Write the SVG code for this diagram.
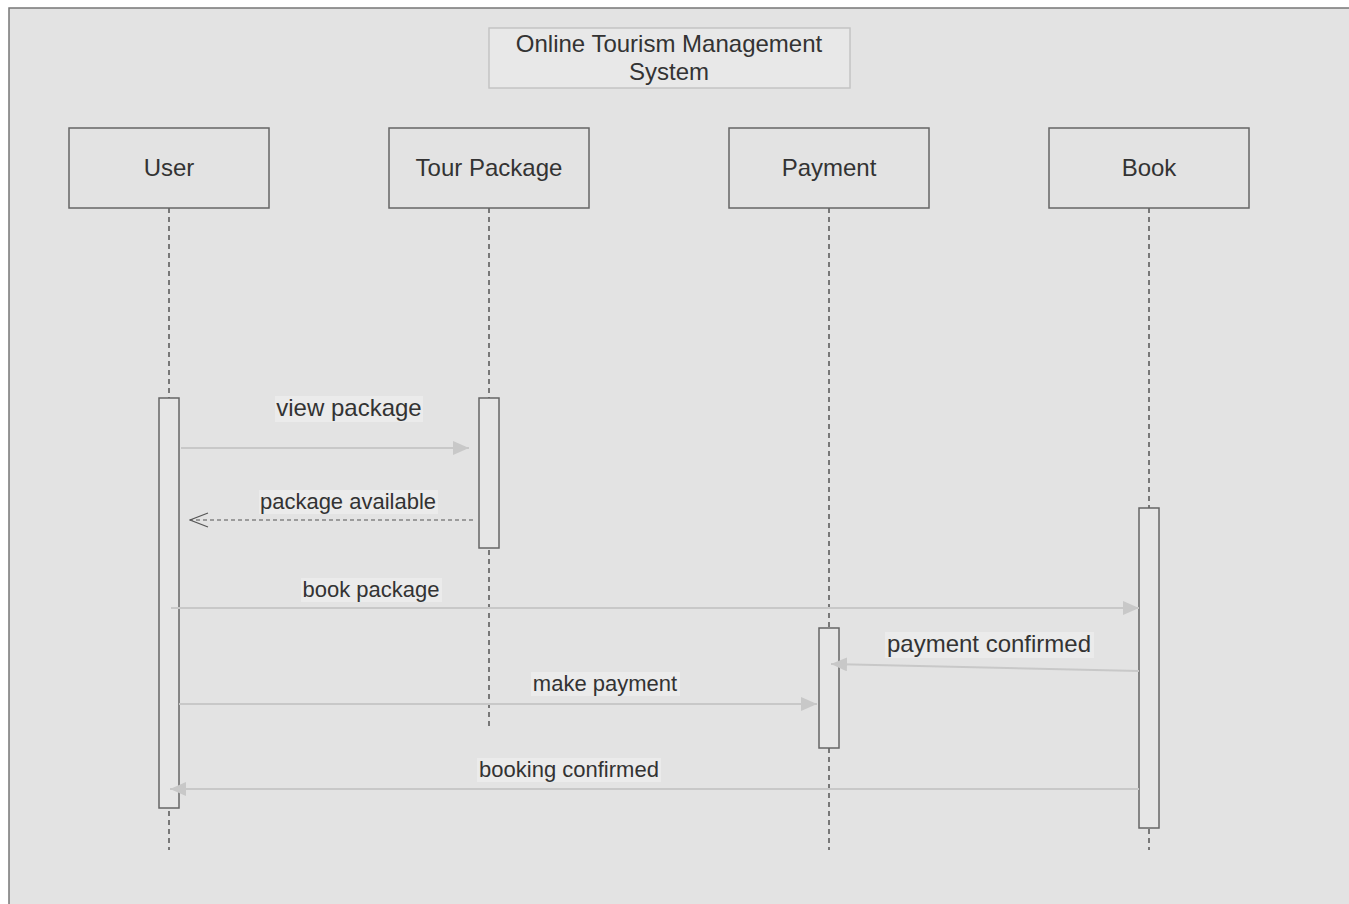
<svg xmlns="http://www.w3.org/2000/svg" width="1349" height="904" viewBox="0 0 1349 904">
<defs>
<style>
.t{font-family:"Liberation Sans",Arial,sans-serif;font-size:24px;fill:#333;text-anchor:middle}
.s{font-size:22px}
.hd{fill:#e3e3e3;stroke:#666;stroke-width:1.5}
.act{fill:#e6e6e6;stroke:#666;stroke-width:1.5}
.ll{stroke:#555;stroke-width:1.5;stroke-dasharray:5 4;fill:none}
.msg{stroke:#c8c8c8;stroke-width:2;fill:none}
.ret{stroke:#555;stroke-width:1.2;stroke-dasharray:4 3;fill:none}
.lb{fill:#ebebeb}
</style>
<marker id="fa" viewBox="0 0 16 14" refX="16" refY="7" markerWidth="16" markerHeight="14" markerUnits="userSpaceOnUse" orient="auto"><path d="M0,0 L16,7 L0,14 Z" fill="#c8c8c8"/></marker>
<marker id="oa" viewBox="0 0 20 16" refX="19" refY="8" markerWidth="20" markerHeight="16" markerUnits="userSpaceOnUse" orient="auto"><path d="M1,1 L19,8 L1,15" fill="none" stroke="#555" stroke-width="1.2"/></marker>
</defs>
<rect x="0" y="0" width="1349" height="904" fill="#ffffff"/>
<rect x="9" y="8" width="1345" height="900" fill="#e3e3e3" stroke="#777" stroke-width="1.5"/>
<g id="title">
<rect x="489" y="28" width="361" height="60" fill="#e8e8e8" stroke="#c4c4c4" stroke-width="1.5"/>
<text class="t" x="669" y="52">Online Tourism Management</text>
<text class="t" x="669" y="80">System</text>
</g>
<g id="user">
<line class="ll" x1="169" y1="208" x2="169" y2="850"/>
<rect class="hd" x="69" y="128" width="200" height="80"/>
<text class="t" x="169" y="176">User</text>
<rect class="act" x="159" y="398" width="20" height="410"/>
</g>
<g id="tour">
<line class="ll" x1="489" y1="208" x2="489" y2="730"/>
<rect class="hd" x="389" y="128" width="200" height="80"/>
<text class="t" x="489" y="176">Tour Package</text>
<rect class="act" x="479" y="398" width="20" height="150"/>
</g>
<g id="payment">
<line class="ll" x1="829" y1="208" x2="829" y2="850"/>
<rect class="hd" x="729" y="128" width="200" height="80"/>
<text class="t" x="829" y="176">Payment</text>
<rect class="act" x="819" y="628" width="20" height="120"/>
</g>
<g id="book">
<line class="ll" x1="1149" y1="208" x2="1149" y2="850"/>
<rect class="hd" x="1049" y="128" width="200" height="80"/>
<text class="t" x="1149" y="176">Book</text>
<rect class="act" x="1139" y="508" width="20" height="320"/>
</g>
<g id="connectors">
<line class="msg" x1="181" y1="448" x2="469" y2="448" marker-end="url(#fa)"/>
<rect class="lb" x="275" y="396" width="148" height="26"/>
<text class="t" x="349" y="416">view package</text>
<line class="ret" x1="473" y1="520" x2="190" y2="520" marker-end="url(#oa)"/>
<rect class="lb" x="259" y="490" width="179" height="24"/>
<text class="t s" x="348" y="509">package available</text>
<line class="msg" x1="171" y1="608" x2="1139" y2="608" marker-end="url(#fa)"/>
<rect class="lb" x="301" y="578" width="141" height="24"/>
<text class="t s" x="371" y="597">book package</text>
<line class="msg" x1="1139" y1="671" x2="831" y2="664" marker-end="url(#fa)"/>
<rect class="lb" x="885" y="632" width="209" height="26"/>
<text class="t" x="989" y="652">payment confirmed</text>
<line class="msg" x1="179" y1="704" x2="817" y2="704" marker-end="url(#fa)"/>
<rect class="lb" x="531" y="672" width="149" height="24"/>
<text class="t s" x="605" y="691">make payment</text>
<line class="msg" x1="1139" y1="789" x2="170" y2="789" marker-end="url(#fa)"/>
<rect class="lb" x="477" y="758" width="184" height="24"/>
<text class="t s" x="569" y="777">booking confirmed</text>
</g>
</svg>
